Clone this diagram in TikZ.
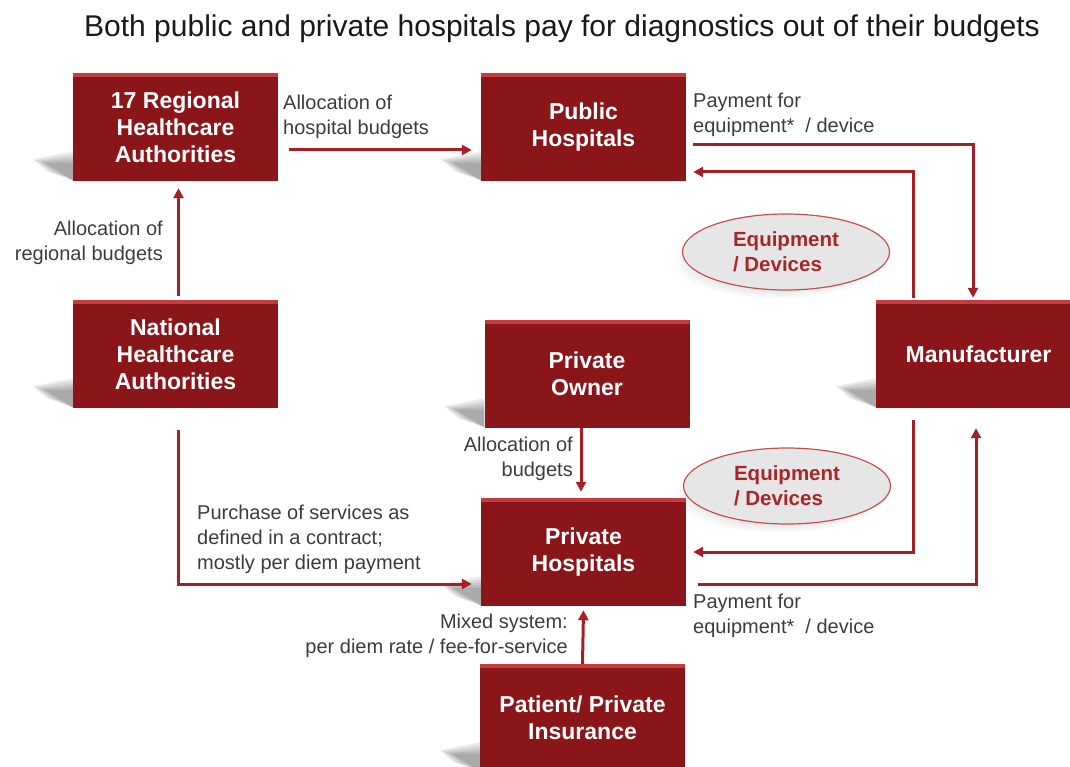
\documentclass[tikz,border=0pt]{standalone}
\usepackage{fontspec}
\setmainfont{Liberation Sans}
\usetikzlibrary{arrows.meta,shapes.geometric}
\definecolor{boxred}{RGB}{138,22,26}
\definecolor{bevel}{RGB}{196,60,62}
\definecolor{linered}{RGB}{165,32,38}
\definecolor{labgray}{RGB}{60,60,60}
\definecolor{ellfill}{RGB}{230,230,230}
\definecolor{ellborder}{RGB}{196,80,80}
\definecolor{elltext}{RGB}{168,38,42}
\pgfdeclarelayer{background}
\pgfsetlayers{background,main}
\newcommand\boxshade[1]{%
  \foreach \s/\o in {0/0.08,3/0.08,6/0.08,9/0.08,12/0.08}{%
  \fill[black, opacity=\o]
    ([xshift=-40pt+\s pt,yshift=22pt-0.3*\s pt]#1.south west) -- ([yshift=30pt-\s pt]#1.south west)
    -- ([yshift=1pt]#1.south west) -- ([xshift=-26pt+\s pt,yshift=10pt]#1.south west) -- cycle;}}
\begin{document}
\begin{tikzpicture}[x=1pt,y=-1pt,
  box/.style={fill=boxred, minimum width=205pt, minimum height=108pt, text=white,
    font=\fontsize{23}{27}\selectfont\bfseries, align=center, inner sep=0pt,
    path picture={\fill[bevel] (path picture bounding box.north west) rectangle
      ([yshift=-4pt]path picture bounding box.north east);}},
  lab/.style={text=labgray, font=\fontsize{20}{25}\selectfont, inner sep=0pt},
  arr/.style={draw=linered, line width=3pt, -{Triangle[length=10pt,width=10pt]}},
  ell/.style={ellipse, draw=ellborder, line width=1.2pt, fill=ellfill,
    minimum width=207pt, minimum height=76pt, text=elltext,
    font=\fontsize{20.5}{25}\selectfont\bfseries, align=left, inner sep=0pt}]
\useasboundingbox (0,0) rectangle (1070,767);
\clip (0,0) rectangle (1070,767);

\node[text=black!90, font=\fontsize{30}{36}\selectfont] (title) at (562,29)
  {Both public and private hospitals pay for diagnostics out of their budgets};

\node[box] (reg) at (175.5,127) {17 Regional\\Healthcare\\Authorities};
\node[box] (pub) at (583.5,127) {Public\\Hospitals};
\node[box] (nat) at (175.5,354) {National\\Healthcare\\Authorities};
\node[box] (own) at (587,374) {Private\\Owner};
\node[box] (man) at (978.5,354) {Manufacturer};
\node[box] (ph) at (583.5,552) {Private\\Hospitals};
\node[box] (pat) at (582.5,718) {Patient/ Private\\Insurance};

\node[ell] (e1) at (786,252) {Equipment\\/ Devices};
\node[ell] (e2) at (787,486) {Equipment\\/ Devices};

\begin{pgfonlayer}{background}
  \boxshade{reg}\boxshade{pub}\boxshade{nat}\boxshade{own}
  \boxshade{man}\boxshade{ph}\boxshade{pat}
  \shade[inner color=black!40, outer color=white]
    ([xshift=-8pt,yshift=-9pt]e1.center) ellipse [x radius=106pt, y radius=38pt];
  \shade[inner color=black!40, outer color=white]
    ([xshift=-8pt,yshift=-9pt]e2.center) ellipse [x radius=106pt, y radius=38pt];
\end{pgfonlayer}

\node[lab, align=left, anchor=west] (l1) at (283,116.5) {Allocation of\\hospital budgets};
\node[lab, align=right, anchor=east] (l2) at (163,242.5) {Allocation of\\regional budgets};
\node[lab, align=left, anchor=west] (l3) at (693,114.5) {Payment for\\equipment*~ / device};
\node[lab, align=left, anchor=west] (l4) at (693,615.5) {Payment for\\equipment*~ / device};
\node[lab, align=left, anchor=west] (l5) at (197,539) {Purchase of services as\\defined in a contract;\\mostly per diem payment};
\node[lab, align=right, anchor=east] (l6) at (573,458.5) {Allocation of\\budgets};
\node[lab, align=right, anchor=east] (l7) at (568,635.5) {Mixed system:\\per diem rate / fee-for-service};

\draw[arr] ([xshift=11pt,yshift=-23pt]reg.east) -- ([xshift=-9pt,yshift=-23pt]pub.west);
\draw[arr] ([xshift=3pt,yshift=4pt]nat.north) -- ([xshift=3pt,yshift=-7pt]reg.south);
\draw[arr] ([xshift=7pt,yshift=-18pt]pub.east) -| ([xshift=-5.5pt,yshift=2pt]man.north);
\draw[arr] ([xshift=-65pt,yshift=2pt]man.north) |- ([xshift=7pt,yshift=-45pt]pub.east);
\draw[arr] ([xshift=-65pt,yshift=-12pt]man.south) |- ([xshift=7pt]ph.east);
\draw[arr] ([xshift=12pt,yshift=-32pt]ph.east) -| ([xshift=-2.5pt,yshift=-20pt]man.south);
\draw[arr] ([xshift=3pt,yshift=-22pt]nat.south) |- ([xshift=-9pt,yshift=-32pt]ph.west);
\draw[arr] ([xshift=-6pt]own.south) -- ([xshift=-2.5pt,yshift=6pt]ph.north);
\draw[arr] (pat.north) -- ([yshift=-4pt]ph.south);
\end{tikzpicture}
\end{document}
